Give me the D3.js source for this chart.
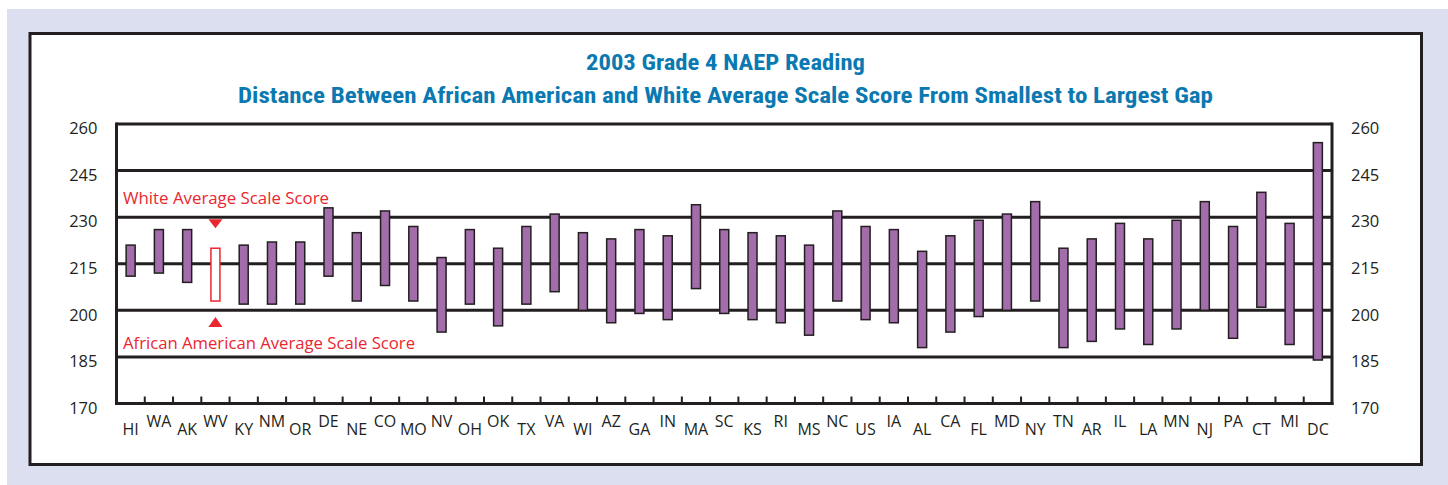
<!DOCTYPE html>
<html>
<head>
<meta charset="utf-8">
<script src="https://cdn.jsdelivr.net/npm/d3@7"></script>
<style>
  html, body { margin: 0; padding: 0; background: #ffffff; }
  svg { display: block; }
</style>
</head>
<body>
<svg id="chart" width="1448" height="485"></svg>
<script>
// ---- data ----
const states = ["HI","WA","AK","WV","KY","NM","OR","DE","NE","CO","MO","NV","OH","OK","TX","VA","WI","AZ","GA","IN","MA","SC","KS","RI","MS","NC","US","IA","AL","CA","FL","MD","NY","TN","AR","IL","LA","MN","NJ","PA","CT","MI","DC"];
const whiteScores = [221,226,226,220,221,222,222,233,225,232,227,217,226,220,227,231,225,223,226,224,234,226,225,224,221,232,227,226,219,224,229,231,235,220,223,228,223,229,235,227,238,228,254];
const blackScores = [211,212,209,203,202,202,202,211,203,208,203,193,202,195,202,206,200,196,199,197,207,199,197,196,192,203,197,196,188,193,198,200,203,188,190,194,189,194,200,191,201,189,184];
const yTicks = [170,185,200,215,230,245,260];
const highlightState = "WV";
const titleLine1 = "2003 Grade 4 NAEP Reading";
const titleLine2 = "Distance Between African American and White Average Scale Score From Smallest to Largest Gap";
const noteWhite = "White Average Scale Score";
const noteBlack = "African American Average Scale Score";

// ---- layout ----
const svg = d3.select("#chart");
const L = 116.5, R = 1332, T = 124, B = 403.5;
const x = d3.scaleBand().domain(states).range([L, R]).paddingInner(0).paddingOuter(0);
const y = d3.scaleLinear().domain([170, 260]).range([B, T]);

const red = "#ea2630";
const dark = "#231f20";
const purple = "#a36cab";
const blue = "#0b79b1";

// backgrounds
svg.append("rect").attr("x", 7).attr("y", 9).attr("width", 1441).attr("height", 476).attr("fill", "#dcdff0");
svg.append("rect").attr("x", 30).attr("y", 33.5).attr("width", 1391.5).attr("height", 431)
  .attr("fill", "#ffffff").attr("stroke", dark).attr("stroke-width", 3);

// titles
const tfont = "'Liberation Sans Narrow','Roboto Condensed','Open Sans',sans-serif";
svg.append("text").attr("x", 725.5).attr("y", 70).attr("text-anchor", "middle")
  .attr("font-family", tfont).attr("font-weight", "bold").attr("font-size", 22)
  .attr("fill", blue).attr("textLength", 279).attr("lengthAdjust", "spacingAndGlyphs").text(titleLine1);
svg.append("text").attr("x", 725.5).attr("y", 103).attr("text-anchor", "middle")
  .attr("font-family", tfont).attr("font-weight", "bold").attr("font-size", 22)
  .attr("fill", blue).attr("textLength", 975).attr("lengthAdjust", "spacingAndGlyphs").text(titleLine2);

// gridlines
svg.append("g").selectAll("line").data(yTicks.filter(d => d > 170)).join("line")
  .attr("x1", L).attr("x2", R).attr("y1", d => y(d)).attr("y2", d => y(d))
  .attr("stroke", dark).attr("stroke-width", 3);

// frame: left, right, bottom axis lines
svg.append("line").attr("x1", L).attr("x2", L).attr("y1", T - 1.5).attr("y2", B + 1.5).attr("stroke", dark).attr("stroke-width", 3);
svg.append("line").attr("x1", R).attr("x2", R).attr("y1", T - 1.5).attr("y2", B + 1.5).attr("stroke", dark).attr("stroke-width", 3);
svg.append("line").attr("x1", L - 1.5).attr("x2", R + 1.5).attr("y1", B).attr("y2", B).attr("stroke", dark).attr("stroke-width", 3);

// category ticks at band boundaries (pointing up)
svg.append("g").selectAll("line").data(states.slice(1)).join("line")
  .attr("x1", d => x(d)).attr("x2", d => x(d)).attr("y1", B).attr("y2", B - 7)
  .attr("stroke", dark).attr("stroke-width", 2);

// y axes (labels)
const afont = "'Open Sans','Noto Sans',sans-serif";
const yl = svg.append("g").attr("transform", `translate(${L},0)`)
  .call(d3.axisLeft(y).tickValues(yTicks).tickSize(0).tickPadding(19));
const yr = svg.append("g").attr("transform", `translate(${R},0)`)
  .call(d3.axisRight(y).tickValues(yTicks).tickSize(0).tickPadding(19));
[yl, yr].forEach(g => {
  g.select(".domain").remove();
  g.selectAll("text").attr("font-family", afont).attr("font-size", 16.5).attr("fill", dark)
    .attr("dy", "0.32em").attr("transform", "translate(0,4.5)");
});

// category labels (alternating heights)
svg.append("g").selectAll("text").data(states).join("text")
  .attr("x", d => x(d) + x.bandwidth() / 2)
  .attr("y", (d, i) => i % 2 === 0 ? 435 : 427)
  .attr("text-anchor", "middle").attr("font-family", afont).attr("font-size", 16)
  .attr("fill", dark).text(d => d);

// bars
const bw = 9;
svg.append("g").selectAll("rect").data(states).join("rect")
  .attr("x", d => x(d) + x.bandwidth() / 2 - bw / 2)
  .attr("y", (d, i) => y(whiteScores[i]))
  .attr("width", bw)
  .attr("height", (d, i) => y(blackScores[i]) - y(whiteScores[i]))
  .attr("fill", d => d === highlightState ? "#ffffff" : purple)
  .attr("stroke", d => d === highlightState ? red : dark)
  .attr("stroke-width", 1.5);

// annotations
const hx = x(highlightState) + x.bandwidth() / 2;
const hi = states.indexOf(highlightState);
const yTopTri = y(whiteScores[hi]) - 29;
const yBotTri = y(blackScores[hi]) + 16;
svg.append("path").attr("d", `M${hx - 7},${yTopTri} L${hx + 7},${yTopTri} L${hx},${yTopTri + 9} Z`).attr("fill", red);
svg.append("path").attr("d", `M${hx - 7},${yBotTri + 10} L${hx + 7},${yBotTri + 10} L${hx},${yBotTri} Z`).attr("fill", red);
svg.append("text").attr("x", 123).attr("y", 203.5).attr("font-family", afont).attr("font-size", 16)
  .attr("fill", red).attr("textLength", 206).attr("lengthAdjust", "spacingAndGlyphs").text(noteWhite);
svg.append("text").attr("x", 123).attr("y", 349).attr("font-family", afont).attr("font-size", 16)
  .attr("fill", red).attr("textLength", 292).attr("lengthAdjust", "spacingAndGlyphs").text(noteBlack);
</script>
</body>
</html>
